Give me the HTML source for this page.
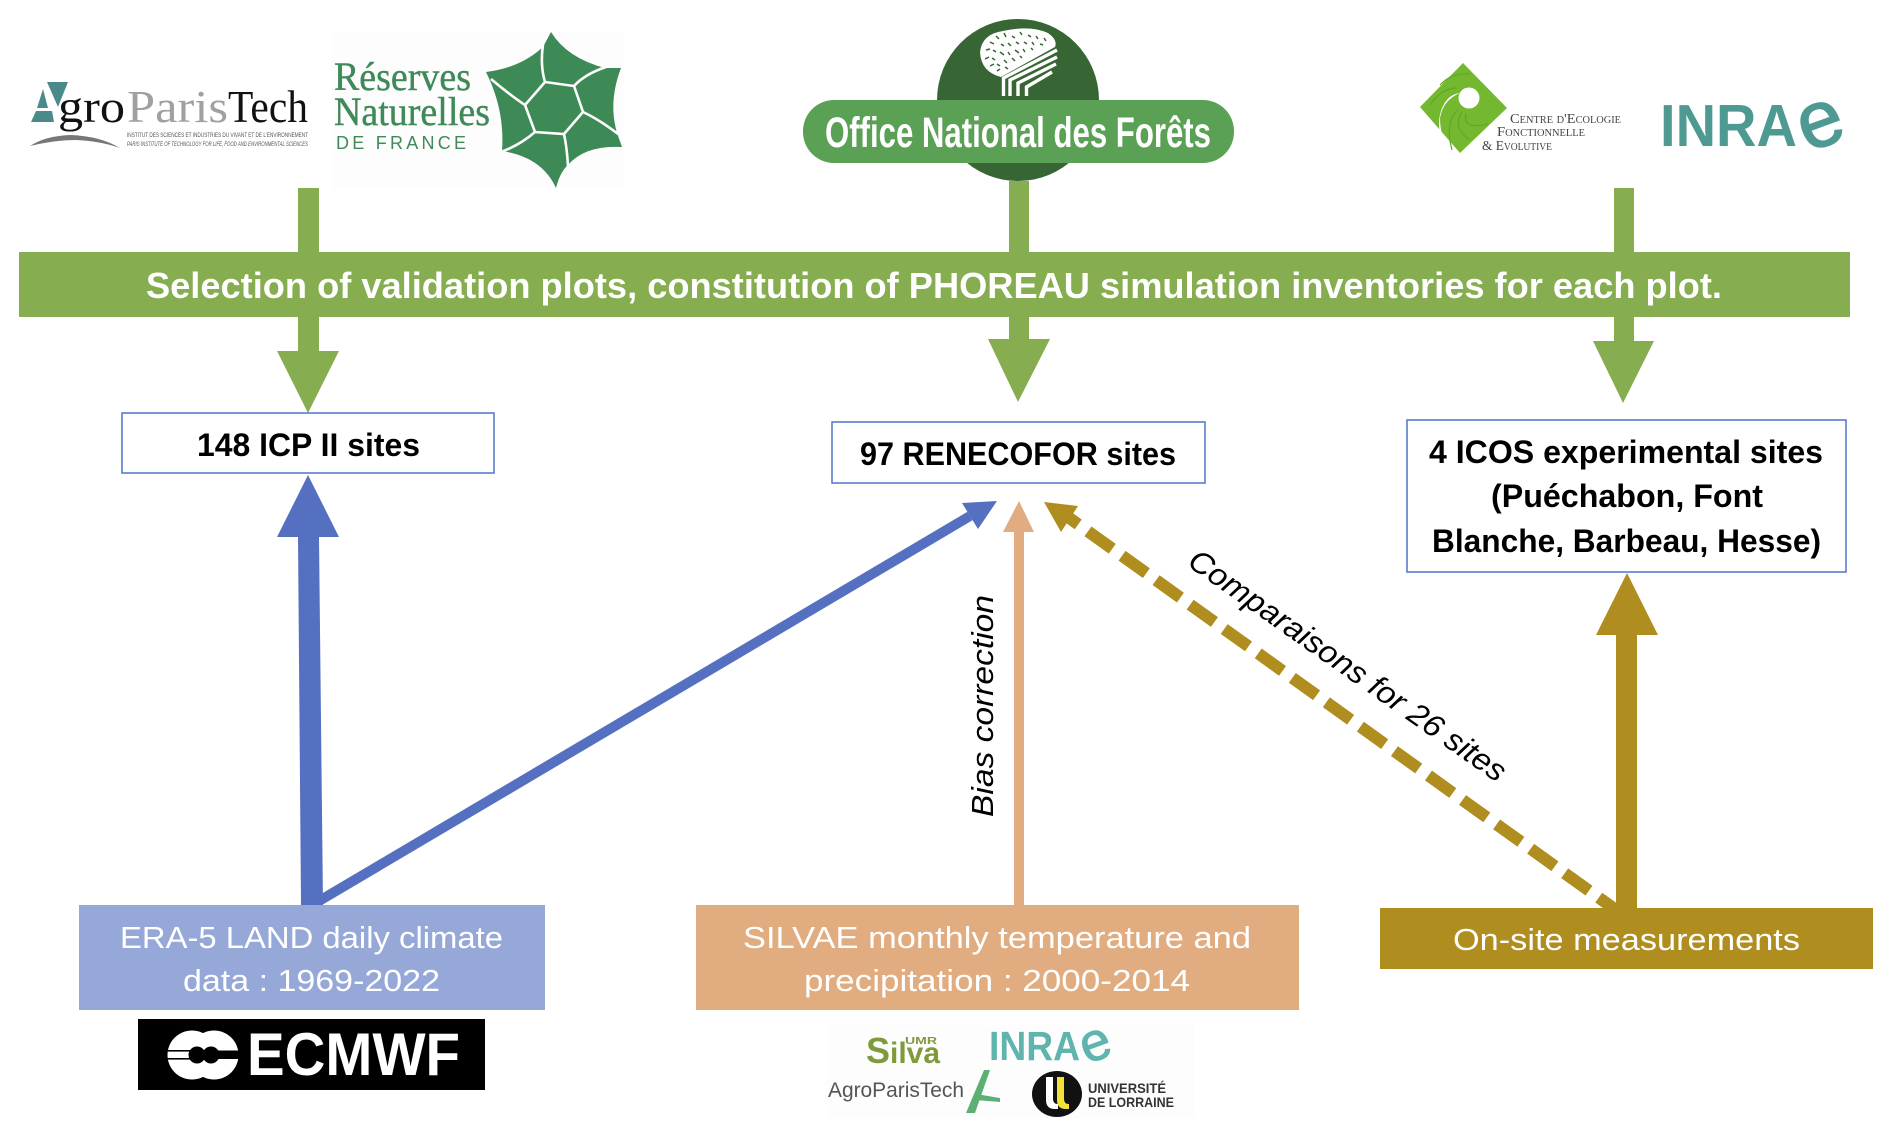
<!DOCTYPE html>
<html><head><meta charset="utf-8"><style>
html,body{margin:0;padding:0;background:#fff}
svg{display:block}
text{font-family:"Liberation Sans",sans-serif}
.b{font-weight:bold;fill:#000;font-size:32px}
.w{fill:#fff;font-size:31px}
</style></head><body>
<svg width="1892" height="1138" viewBox="0 0 1892 1138" xmlns="http://www.w3.org/2000/svg">
<rect width="1892" height="1138" fill="#fff"/>

<!-- AgroParisTech logo -->
<polygon points="47,82 68,82 58,107" fill="#4a8a8a"/>
<polygon points="43,89 48,108 37,108" fill="#4a8a8a"/>
<polygon points="36,111 52,111 54,122 31,122" fill="#4a8a8a"/>
<text x="58" y="122" font-size="46" style="font-family:'Liberation Serif',serif" fill="#111" textLength="67" lengthAdjust="spacingAndGlyphs">gro</text>
<text x="127" y="122" font-size="46" style="font-family:'Liberation Serif',serif" fill="#a0a0a0" textLength="101" lengthAdjust="spacingAndGlyphs">Paris</text>
<text x="228" y="122" font-size="46" style="font-family:'Liberation Serif',serif" fill="#111" textLength="80" lengthAdjust="spacingAndGlyphs">Tech</text>
<text x="127" y="137" font-size="6" fill="#555" textLength="181" lengthAdjust="spacingAndGlyphs">INSTITUT DES SCIENCES ET INDUSTRIES DU VIVANT ET DE L'ENVIRONNEMENT</text>
<text x="127" y="146" font-size="6" font-style="italic" fill="#555" textLength="181" lengthAdjust="spacingAndGlyphs">PARIS INSTITUTE OF TECHNOLOGY FOR LIFE, FOOD AND ENVIRONMENTAL SCIENCES</text>
<path d="M30,146 Q45,136 70,135 Q100,136 120,148 Q100,141 76,140 Q55,140 30,146Z" fill="#777"/>

<!-- Réserves Naturelles -->
<rect x="332" y="32" width="291" height="156" fill="#fdfdfd"/>
<text x="334" y="90" font-size="40" style="font-family:'Liberation Serif',serif" fill="#3f8a58" stroke="#3f8a58" stroke-width=".4" textLength="137" lengthAdjust="spacingAndGlyphs">Réserves</text>
<text x="334" y="125" font-size="40" style="font-family:'Liberation Serif',serif" fill="#3f8a58" stroke="#3f8a58" stroke-width=".4" textLength="156" lengthAdjust="spacingAndGlyphs">Naturelles</text>
<text x="336" y="149" font-size="18" fill="#3f8a58" textLength="130" lengthAdjust="spacing">DE FRANCE</text>
<path d="M551,32 Q567,58 605,68 L621,68 Q608,102 617,133 L622,147 Q585,145 568,165 Q560,172 556,188 Q542,157 502,151 Q505,110 486,72 Q520,68 543,47 Z" fill="#3e8a56"/>
<g fill="none" stroke="#fdfdfd" stroke-width="2.6">
<polygon points="545,82 574,86 583,112 564,134 535,132 525,105"/>
<path d="M545,82 Q540,65 543,45"/><path d="M574,86 Q585,74 606,67"/><path d="M583,112 Q600,120 618,134"/><path d="M564,134 Q567,148 568,166"/><path d="M535,132 Q520,145 501,152"/><path d="M525,105 Q510,95 491,79"/>
</g>

<!-- ONF logo -->
<circle cx="1018" cy="100" r="81" fill="#376533"/>
<path d="M1001,77 Q981,72 980,52 Q982,34 1003,31 Q1030,25 1048,33 Q1058,40 1055,47 Z" fill="#fff"/>
<path d="M990,42l4,2M996,36l3,3M1004,33l2,4M1012,36l3,2M1020,32l2,3M1028,35l3,2M1036,36l2,3M1044,38l2,3M986,50l4,-1M993,50l3,2M1001,44l3,2M1008,43l3,3M1016,42l3,2M1024,42l3,2M1032,42l2,3M1040,44l3,1M985,59l4,-2M992,58l3,2M1000,52l4,3M1008,52l2,3M1015,50l4,3M1023,49l2,3M1031,48l2,2M990,66l4,-2M997,64l3,2M1004,60l3,3M1012,58l3,3M1020,56l2,2M997,71l3,-2M1005,67l3,2" stroke="#376533" stroke-width="1.5" fill="none"/>
<g fill="none" stroke="#fff" stroke-width="3.4">
<path d="M1003.5,96V78L1057,50"/>
<path d="M1010,96V80L1057,57"/>
<path d="M1018,96V83L1056,64"/>
<path d="M1026.5,96V87L1052,72"/>
</g>
<rect x="803" y="100" width="431" height="63" rx="31" fill="#5aa055"/>
<text x="825" y="147" font-size="43" font-weight="bold" fill="#fff" textLength="386" lengthAdjust="spacingAndGlyphs">Office National des Forêts</text>

<!-- CEFE -->
<polygon points="1463,63 1507,108 1460,153 1420,107" fill="#74b82f"/>
<g fill="none" stroke="#64a528" stroke-width="1.2">
<path d="M1452,150 Q1444,120 1460,108"/><path d="M1470,140 Q1452,128 1462,112"/><path d="M1488,124 Q1462,130 1466,114"/><path d="M1440,85 Q1452,72 1470,74"/><path d="M1430,105 Q1442,88 1456,88"/>
</g>
<circle cx="1469" cy="98" r="10.5" fill="#fff"/>
<path d="M1460,93 Q1443,100 1440,118 Q1440,136 1449,150 L1444,146 Q1434,122 1444,104 Q1450,94 1460,93Z" fill="#fff"/>
<path d="M1460,93 Q1454,100 1461,108 Q1467,112 1475,108 Q1466,114 1458,110 Q1449,102 1460,93Z" fill="#74b82f"/>
<text x="1510" y="123" font-size="14" style="font-family:'Liberation Serif',serif;font-variant:small-caps" fill="#444" textLength="111" lengthAdjust="spacingAndGlyphs">Centre d'Ecologie</text>
<text x="1497" y="136" font-size="14" style="font-family:'Liberation Serif',serif;font-variant:small-caps" fill="#444" textLength="88" lengthAdjust="spacingAndGlyphs">Fonctionnelle</text>
<text x="1482" y="150" font-size="14" style="font-family:'Liberation Serif',serif;font-variant:small-caps" fill="#444" textLength="70" lengthAdjust="spacingAndGlyphs">&amp; Evolutive</text>

<!-- INRAE -->
<text x="1660" y="146" font-size="59" font-weight="bold" fill="#4e9a92" textLength="137" lengthAdjust="spacingAndGlyphs">INRA</text>
<text transform="translate(1821,125) rotate(-20)" y="21" text-anchor="middle" font-size="80" fill="#4e9a92" stroke="#4e9a92" stroke-width="1.5">e</text>

<!-- Green stems & arrows -->
<g fill="#86ad4f">
<rect x="298" y="188" width="21" height="165"/>
<polygon points="277,351 339,351 308,413"/>
<rect x="1009" y="181" width="20" height="160"/>
<polygon points="988,339 1050,339 1018,402"/>
<rect x="1614" y="188" width="20" height="155"/>
<polygon points="1593,341 1654,341 1623,403"/>
<rect x="19" y="252" width="1831" height="65"/>
</g>
<text x="146" y="298" font-size="36" font-weight="bold" fill="#fff" textLength="1576" lengthAdjust="spacingAndGlyphs">Selection of validation plots, constitution of PHOREAU simulation inventories for each plot.</text>

<!-- Site boxes -->
<g fill="#fff" stroke="#4f74c8" stroke-width="1.5">
<rect x="122" y="413" width="372" height="60"/>
<rect x="832" y="422" width="373" height="61"/>
<rect x="1407" y="420" width="439" height="152"/>
</g>
<text class="b" x="197" y="456" textLength="223" lengthAdjust="spacingAndGlyphs">148 ICP II sites</text>
<text class="b" x="860" y="465" textLength="316" lengthAdjust="spacingAndGlyphs">97 RENECOFOR sites</text>
<text class="b" x="1429" y="463" textLength="394" lengthAdjust="spacingAndGlyphs">4 ICOS experimental sites</text>
<text class="b" x="1491" y="507" textLength="272" lengthAdjust="spacingAndGlyphs">(Puéchabon, Font</text>
<text class="b" x="1432" y="552" textLength="389" lengthAdjust="spacingAndGlyphs">Blanche, Barbeau, Hesse)</text>

<!-- Blue arrows -->
<polygon points="298,537 319,537 323,905 301,905" fill="#5670c1"/>
<polygon points="277,537 339,537 308,475" fill="#5670c1"/>
<line x1="314" y1="904" x2="970" y2="516" stroke="#5670c1" stroke-width="10"/>
<polygon points="314,909 301,902 312,895" fill="#5670c1"/>
<polygon points="997,501 962,503 978,529" fill="#5670c1"/>

<!-- Peach arrow -->
<rect x="1014" y="530" width="10" height="376" fill="#e1ac80"/>
<polygon points="1019,501 1003,532 1034,532" fill="#e1ac80"/>

<!-- Gold arrows -->
<rect x="1616" y="633" width="21" height="276" fill="#af8d1f"/>
<polygon points="1627,573 1596,635 1658,635" fill="#af8d1f"/>
<polygon points="1044,502 1078,506 1061,532" fill="#af8d1f"/>
<line x1="1068" y1="517" x2="1616" y2="910" stroke="#af8d1f" stroke-width="12" stroke-dasharray="29.9 12" stroke-dashoffset="17.3"/>

<!-- Arrow labels -->
<text transform="translate(993,817) rotate(-90)" font-size="31" font-style="italic" fill="#000" textLength="222" lengthAdjust="spacingAndGlyphs">Bias correction</text>
<text transform="translate(1186,565) rotate(35)" font-size="31" font-style="italic" fill="#000" textLength="380" lengthAdjust="spacingAndGlyphs">Comparaisons for 26 sites</text>

<!-- Bottom boxes -->
<rect x="79" y="905" width="466" height="105" fill="#95a8d8"/>
<rect x="696" y="905" width="603" height="105" fill="#e1ac80"/>
<rect x="1380" y="908" width="493" height="61" fill="#af8d1f"/>
<text class="w" x="120" y="948" textLength="383" lengthAdjust="spacingAndGlyphs">ERA-5 LAND daily climate</text>
<text class="w" x="183" y="991" textLength="257" lengthAdjust="spacingAndGlyphs">data : 1969-2022</text>
<text class="w" x="743" y="948" textLength="508" lengthAdjust="spacingAndGlyphs">SILVAE monthly temperature and</text>
<text class="w" x="804" y="991" textLength="386" lengthAdjust="spacingAndGlyphs">precipitation : 2000-2014</text>
<text class="w" x="1453" y="950" textLength="347" lengthAdjust="spacingAndGlyphs">On-site measurements</text>

<!-- ECMWF -->
<rect x="138" y="1019" width="347" height="71" fill="#000"/>
<g fill="#fff">
<circle cx="192" cy="1055" r="24.5"/>
<circle cx="214" cy="1055" r="24.5"/>
</g>
<g fill="#000">
<circle cx="197" cy="1055" r="8.5"/>
<circle cx="211" cy="1055" r="8.5"/>
<rect x="167" y="1050" width="24" height="1.6"/>
<rect x="167" y="1058" width="24" height="1.6"/>
<rect x="214" y="1050.5" width="25" height="8.5"/>
</g>
<text x="247" y="1075" font-size="60" font-weight="bold" fill="#fff" textLength="213" lengthAdjust="spacingAndGlyphs">ECMWF</text>

<!-- Small logos -->
<rect x="827" y="1025" width="367" height="93" fill="#fdfdfd"/>
<text x="866" y="1063" font-weight="bold" fill="#7f9a3a" font-size="36">S<tspan font-size="30">ilva</tspan></text>
<text x="905" y="1044" font-size="10" font-weight="bold" fill="#7f9a3a" textLength="32" lengthAdjust="spacingAndGlyphs">UMR</text>
<text x="989" y="1060" font-size="41" font-weight="bold" fill="#5fb5ae" textLength="91" lengthAdjust="spacingAndGlyphs">INRA</text>
<text transform="translate(1096,1046) rotate(-20)" y="14" text-anchor="middle" font-size="54" fill="#5fb5ae" stroke="#5fb5ae" stroke-width="1">e</text>
<text x="828" y="1097" font-size="21" fill="#555" textLength="136" lengthAdjust="spacingAndGlyphs">AgroParisTech</text>
<polygon points="984,1070 990,1070 975,1113 966,1113" fill="#5db075"/>
<polygon points="976,1094 1000,1098 1000,1102 975,1100" fill="#5db075"/>
<ellipse cx="1057" cy="1094" rx="25" ry="23" fill="#111"/>
<path d="M1046,1077h7v22q0,5 5,5v5h-3q-9,0 -9,-9z" fill="#fff"/>
<path d="M1057,1077h7v22q0,5 5,5v5h-3q-9,0 -9,-9z" fill="#f2e13a"/>
<text x="1088" y="1093" font-size="14" font-weight="bold" fill="#333" textLength="78" lengthAdjust="spacingAndGlyphs">UNIVERSITÉ</text>
<text x="1088" y="1107" font-size="14" font-weight="bold" fill="#333" textLength="86" lengthAdjust="spacingAndGlyphs">DE LORRAINE</text>
</svg>
</body></html>
